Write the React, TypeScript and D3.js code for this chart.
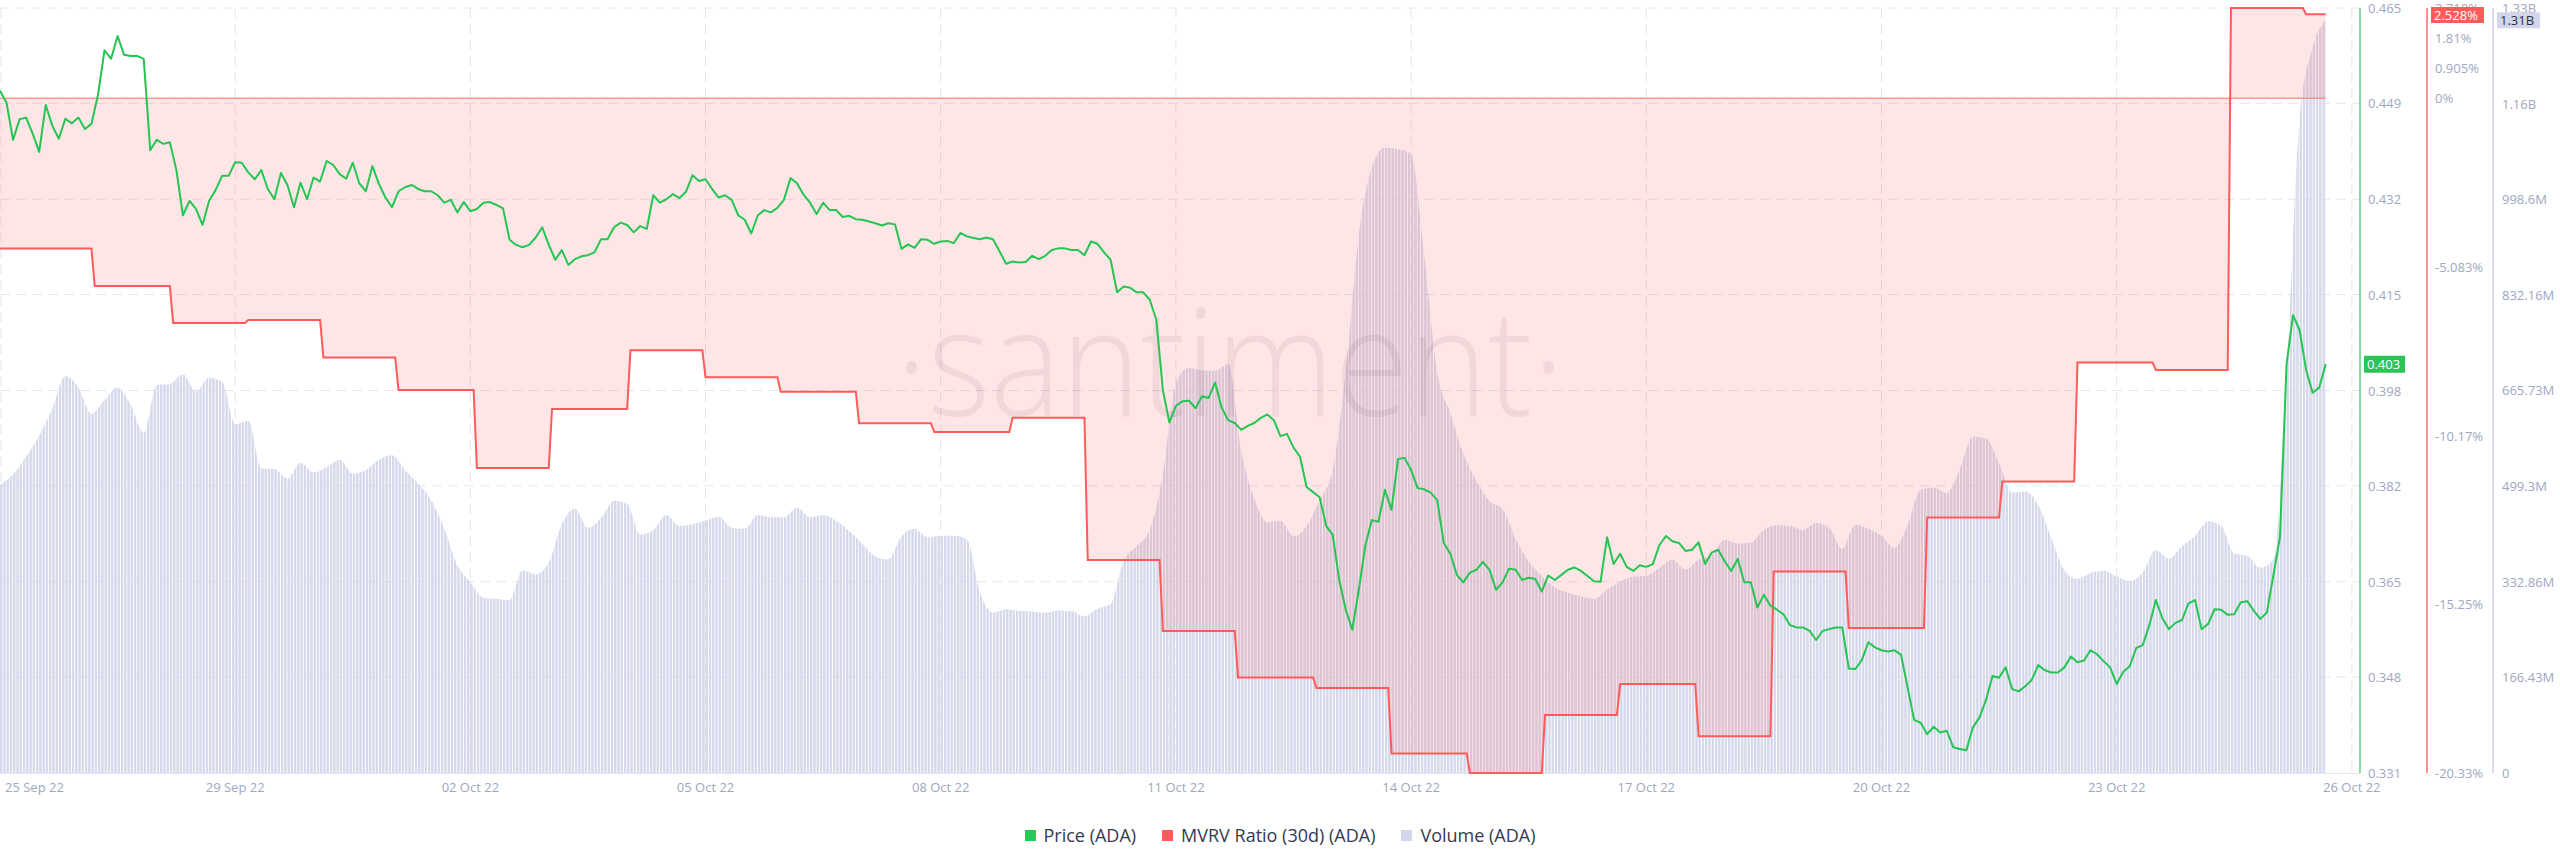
import React from 'react'
import * as d3 from 'd3'

// series start 26 Sep 2022 00:00 UTC; price every 2 hours, volume every 4 hours
const startTime = Date.UTC(2022, 8, 26, 0)
const endTime = Date.UTC(2022, 9, 26, 2, 30)
const priceStepHours = 2
const volumeStepHours = 4

const priceValues = [
  0.4509, 0.4488, 0.4423, 0.4459, 0.4462, 0.4434, 0.4402, 0.4484, 0.4448, 0.4425,
  0.446, 0.4452, 0.4462, 0.4442, 0.4451, 0.4502, 0.458, 0.4565, 0.4605, 0.4572,
  0.457, 0.457, 0.4565, 0.4405, 0.4423, 0.4416, 0.4419, 0.437, 0.4291, 0.4316,
  0.4302, 0.4274, 0.4316, 0.4335, 0.436, 0.436, 0.4384, 0.4383, 0.4366, 0.4354,
  0.437, 0.4337, 0.4319, 0.4365, 0.4344, 0.4305, 0.4348, 0.4319, 0.4357, 0.435,
  0.4386, 0.4379, 0.4363, 0.4355, 0.4383, 0.4347, 0.4333, 0.4377, 0.4346, 0.4322,
  0.4305, 0.4333, 0.434, 0.4344, 0.4337, 0.4333, 0.4333, 0.4326, 0.4313, 0.4318,
  0.4296, 0.4314, 0.4298, 0.4302, 0.4313, 0.4314, 0.4309, 0.4303, 0.4248, 0.4239,
  0.4235, 0.4239, 0.4252, 0.427, 0.4239, 0.4213, 0.423, 0.4204, 0.4214, 0.4219,
  0.4221, 0.4226, 0.4249, 0.4249, 0.427, 0.4278, 0.4274, 0.4261, 0.4272, 0.4267,
  0.4326, 0.4313, 0.4319, 0.4328, 0.4321, 0.4332, 0.4361, 0.4351, 0.4354, 0.4337,
  0.4322, 0.4326, 0.4318, 0.4291, 0.4283, 0.4259, 0.4291, 0.43, 0.4296, 0.4304,
  0.4318, 0.4356, 0.4347, 0.4327, 0.4313, 0.4293, 0.4313, 0.43, 0.43, 0.4288,
  0.429, 0.4284, 0.4283, 0.428, 0.4277, 0.4273, 0.4277, 0.4275, 0.4232, 0.424,
  0.4234, 0.4249, 0.4248, 0.4241, 0.4245, 0.4246, 0.4242, 0.426, 0.4254, 0.4251,
  0.4249, 0.4252, 0.4249, 0.4228, 0.4206, 0.421, 0.4208, 0.4209, 0.422, 0.4214,
  0.422, 0.423, 0.4233, 0.4233, 0.423, 0.423, 0.4221, 0.4245, 0.4241, 0.4226,
  0.4213, 0.4156, 0.4166, 0.4164, 0.4156, 0.4156, 0.4143, 0.4108, 0.3985, 0.3928,
  0.3957, 0.3965, 0.3966, 0.3953, 0.3974, 0.3971, 0.3998, 0.3954, 0.3932, 0.3927,
  0.3915, 0.3922, 0.3927, 0.3936, 0.3942, 0.3932, 0.3904, 0.3908, 0.3884, 0.3868,
  0.3815, 0.3806, 0.3797, 0.3747, 0.3731, 0.3652, 0.36, 0.3565, 0.3635, 0.3713,
  0.3757, 0.3754, 0.381, 0.3775, 0.3864, 0.3866, 0.3845, 0.3813, 0.3811, 0.3805,
  0.3792, 0.3717, 0.3698, 0.3661, 0.3648, 0.3665, 0.367, 0.3684, 0.367, 0.3635,
  0.3648, 0.3672, 0.367, 0.3652, 0.3656, 0.3654, 0.3632, 0.366, 0.3652, 0.3661,
  0.367, 0.3674, 0.3668, 0.3659, 0.365, 0.3649, 0.3727, 0.368, 0.3698, 0.3675,
  0.3668, 0.3678, 0.3675, 0.368, 0.3713, 0.3729, 0.372, 0.3717, 0.3703, 0.3705,
  0.3718, 0.368, 0.37, 0.3705, 0.3685, 0.3668, 0.3689, 0.3648, 0.3648, 0.3604,
  0.3626, 0.3607, 0.36, 0.3592, 0.3573, 0.3569, 0.3569, 0.3563, 0.3547, 0.3563,
  0.3566, 0.3569, 0.3569, 0.3497, 0.3496, 0.3512, 0.3543, 0.3534, 0.3529, 0.3527,
  0.3529, 0.3521, 0.3464, 0.3407, 0.3402, 0.3382, 0.3395, 0.3385, 0.3388, 0.3359,
  0.3356, 0.3354, 0.3394, 0.3411, 0.3442, 0.3484, 0.3481, 0.3499, 0.3461, 0.3457,
  0.3466, 0.3477, 0.3503, 0.3494, 0.349, 0.349, 0.3499, 0.3518, 0.3508, 0.3511,
  0.3529, 0.3522, 0.351, 0.3499, 0.347, 0.3491, 0.3501, 0.3533, 0.3538, 0.3573,
  0.3617, 0.3585, 0.3566, 0.3577, 0.3582, 0.3611, 0.3617, 0.3566, 0.3575, 0.3601,
  0.36, 0.3591, 0.3592, 0.3613, 0.3615, 0.3598, 0.3584, 0.3595, 0.3661, 0.3727,
  0.4029, 0.4116, 0.409, 0.402, 0.398, 0.3989, 0.403,
]

// volume in millions of ADA
const volumeValues = [
  501, 520, 551, 587, 634, 691, 671, 625, 649, 671, 641, 592, 675, 677, 694, 664,
  688, 681, 607, 613, 530, 529, 512, 540, 523, 532, 545, 521, 527, 545, 553,
  527, 504, 475, 425, 362, 332, 305, 303, 301, 353, 346, 366, 433, 460, 427, 444,
  474, 468, 415, 423, 449, 430, 433, 439, 446, 427, 425, 449, 445, 445,
  462, 445, 449, 439, 421, 399, 377, 372, 412, 425, 410, 413, 413, 407, 314, 279,
  285, 282, 281, 279, 283, 282, 273, 286, 294, 370, 394, 423, 519, 679,
  705, 701, 700, 712, 560, 477, 436, 439, 412, 430, 475, 527, 701, 936, 1054, 1088,
  1086, 1077, 902, 697, 627, 556, 508, 473, 459, 407, 368, 343, 323, 314,
  307, 303, 320, 333, 342, 343, 357, 371, 354, 371, 379, 406, 399, 401, 423, 431,
  430, 423, 435, 427, 390, 432, 425, 413, 392, 432, 493, 497, 487, 529,
  585, 582, 539, 488, 490, 466, 409, 353, 338, 348, 352, 342, 334, 349, 388, 373,
  395, 412, 438, 430, 382, 378, 357, 371, 693, 1137, 1263, 1310,
]

const mvrvDates = [
  '2022-09-26T00:00Z', '2022-09-27T05:00Z', '2022-09-28T05:00Z', '2022-09-29T04:00Z',
  '2022-09-30T03:00Z', '2022-10-01T02:00Z', '2022-10-02T02:00Z', '2022-10-03T01:00Z',
  '2022-10-04T01:00Z', '2022-10-05T00:00Z', '2022-10-05T23:00Z', '2022-10-06T23:00Z',
  '2022-10-07T22:00Z', '2022-10-08T22:00Z', '2022-10-09T21:00Z', '2022-10-10T20:00Z',
  '2022-10-11T19:00Z', '2022-10-12T19:00Z', '2022-10-13T18:00Z', '2022-10-14T18:00Z',
  '2022-10-15T17:00Z', '2022-10-16T16:00Z', '2022-10-17T16:00Z', '2022-10-18T15:00Z',
  '2022-10-19T14:00Z', '2022-10-20T14:00Z', '2022-10-21T13:00Z', '2022-10-22T12:00Z',
  '2022-10-23T12:00Z', '2022-10-24T11:00Z', '2022-10-25T10:00Z',
]
const mvrvValues = [
  -4.53, -5.66, -6.77, -6.68, -7.81, -8.79, -11.14, -9.36, -7.59, -8.41, -8.84,
  -9.79, -10.06, -9.63, -13.91, -16.05, -17.45, -17.77, -19.74, -20.33, -18.58,
  -17.65, -19.22, -14.26, -15.96, -12.63, -11.55, -7.96, -8.19, 2.718, 2.528,
]

const priceTicks = [0.3314, 0.3482, 0.3649, 0.3817, 0.3984, 0.4152, 0.4319, 0.4487, 0.4654]
const mvrvTicks = [-20.33, -15.25, -10.17, -5.083, 0, 0.905, 1.81, 2.718]
const mvrvTickLabels = ['-20.33%', '-15.25%', '-10.17%', '-5.083%', '0%', '0.905%', '1.81%', '2.718%']
const volumeTicks = [0, 166.43, 332.86, 499.3, 665.73, 832.16, 998.6, 1165, 1331.4]
const volumeTickLabels = ['0', '166.43M', '332.86M', '499.3M', '665.73M', '832.16M', '998.6M', '1.16B', '1.33B']
const dateTicks = [
  '2022-09-29', '2022-10-02', '2022-10-05', '2022-10-08', '2022-10-11',
  '2022-10-14', '2022-10-17', '2022-10-20', '2022-10-23', '2022-10-26',
]
const firstDateLabel = '25 Sep 22'

const legendItems = [
  { name: 'Price (ADA)', color: '#26c953' },
  { name: 'MVRV Ratio (30d) (ADA)', color: '#ff5b5b' },
  { name: 'Volume (ADA)', color: '#d3d6ea' },
]

const W = 2560
const H = 867
const left = 0
const right = 2360
const top = 8
const bottom = 773
const font = '"Open Sans", sans-serif'
const axisColor = '#9ea7c0'

export default function App() {
  const x = d3.scaleUtc().domain([new Date(startTime), new Date(endTime)]).range([left, right])
  const yPrice = d3.scaleLinear().domain([0.3314, 0.4654]).range([bottom, top])
  const yMvrv = d3.scaleLinear().domain([-20.33, 2.718]).range([bottom, top])
  const yVol = d3.scaleLinear().domain([0, 1331.4]).range([bottom, top])

  const priceTimes = priceValues.map((_, i) => new Date(startTime + i * priceStepHours * 3600e3))
  const volTimes = volumeValues.map((_, i) => new Date(startTime + i * volumeStepHours * 3600e3))
  const lastTime = priceTimes[priceTimes.length - 1]
  const hourPx = x(new Date(startTime + 3600e3)) - x(new Date(startTime))

  const priceLine = d3.line<number>()
    .x((_, i) => x(priceTimes[i]))
    .y((d) => yPrice(d))

  const volArea = d3.area<number>()
    .x((_, i) => x(volTimes[i]))
    .y0(bottom)
    .y1((d) => yVol(d))
    .curve(d3.curveMonotoneX)

  // step line: flat for each day, then a one hour ramp to the next value
  const mvrvTimes = mvrvDates.map((s) => new Date(s))
  const mvrvPts: [Date, number][] = []
  mvrvValues.forEach((v, k) => {
    if (k > 0) mvrvPts.push([new Date(+mvrvTimes[k] - 3600e3), mvrvValues[k - 1]])
    mvrvPts.push([mvrvTimes[k], v])
  })
  mvrvPts.push([lastTime, mvrvValues[mvrvValues.length - 1]])

  const mvrvLine = d3.line<[Date, number]>()
    .x((d) => x(d[0]))
    .y((d) => yMvrv(d[1]))
  const mvrvArea = d3.area<[Date, number]>()
    .x((d) => x(d[0]))
    .y0(yMvrv(0))
    .y1((d) => yMvrv(d[1]))

  const fmtPrice = d3.format('.3f')
  const fmtDate = d3.utcFormat('%d %b %y')

  const lastPrice = priceValues[priceValues.length - 1]
  const lastMvrv = mvrvValues[mvrvValues.length - 1]
  const lastVol = volumeValues[volumeValues.length - 1]
  const pY = yPrice(lastPrice)
  const mY = Math.max(yMvrv(lastMvrv), 15)
  const vY = Math.max(yVol(lastVol), 16)

  return (
    <div style={{ position: 'absolute', left: 0, top: 0, width: W, height: H, background: '#fff' }}>
      <svg width={W} height={H} style={{ display: 'block' }}>
        <defs>
          <pattern id="volStripes" patternUnits="userSpaceOnUse" width={hourPx} height={20}>
            <rect x={0} y={0} width={hourPx - 0.9} height={20} fill="#d5d8eb" />
          </pattern>
        </defs>

        {/* grid */}
        <g stroke="#e4e5f0" strokeWidth={1} strokeDasharray="10 6">
          {priceTicks.slice(1).map((t) => (
            <line key={t} x1={left} x2={right} y1={yPrice(t)} y2={yPrice(t)} />
          ))}
          <line x1={left + 1} x2={left + 1} y1={top} y2={bottom} />
          {dateTicks.map((d) => (
            <line key={d} x1={x(new Date(d))} x2={x(new Date(d))} y1={top} y2={bottom} />
          ))}
        </g>
        <line x1={left} x2={right} y1={bottom + 0.5} y2={bottom + 0.5} stroke="#e3e5f0" />

        {/* volume */}
        <path d={volArea(volumeValues) || ''} fill="url(#volStripes)" />

        {/* watermark */}
        <text x={1230} y={416} textAnchor="middle" fontFamily={font} fontWeight={300}
          fontSize={150} textLength={669} lengthAdjust="spacingAndGlyphs"
          fill="#4a3566" fillOpacity={0.09}>·santiment·</text>

        {/* mvrv */}
        <path d={mvrvArea(mvrvPts) || ''} fill="rgba(255,85,90,0.15)" />
        <line x1={x(priceTimes[0])} x2={x(lastTime)} y1={yMvrv(0)} y2={yMvrv(0)} stroke="#ff6f6f" strokeWidth={1} />
        <path d={mvrvLine(mvrvPts) || ''} fill="none" stroke="#ff5b5b" strokeWidth={2} />

        {/* price */}
        <path d={priceLine(priceValues) || ''} fill="none" stroke="#26c453" strokeWidth={2} strokeLinejoin="round" />

        {/* right axes */}
        <line x1={right} x2={right} y1={top} y2={bottom} stroke="#5fd07e" strokeWidth={1.5} />
        <line x1={2427} x2={2427} y1={top} y2={bottom} stroke="#ff6b6b" strokeWidth={1.5} />
        <line x1={2493} x2={2493} y1={top} y2={bottom} stroke="#cdd0e3" strokeWidth={1.5} />

        <g fontFamily={font} fontSize={13} fill={axisColor} dominantBaseline="central">
          {priceTicks.map((t) => (
            <text key={t} x={2368} y={yPrice(t)}>{fmtPrice(t)}</text>
          ))}
          {mvrvTicks.map((t, i) => (
            <text key={t} x={2435} y={yMvrv(t)}>{mvrvTickLabels[i]}</text>
          ))}
          {volumeTicks.map((t, i) => (
            <text key={t} x={2502} y={yVol(t)}>{volumeTickLabels[i]}</text>
          ))}
        </g>

        {/* last value badges */}
        <g fontFamily={font} fontSize={13} dominantBaseline="central">
          <rect x={2364} y={pY - 8.5} width={41} height={17} fill="#2bc455" />
          <text x={2367} y={pY} fill="#fff">{fmtPrice(lastPrice)}</text>
          <rect x={2431} y={mY - 8} width={53} height={16} fill="#ff5b5b" />
          <text x={2434} y={mY} fill="#fff">{lastMvrv.toFixed(3)}%</text>
          <rect x={2497} y={vY - 8} width={43} height={16} fill="#d3d6ea" />
          <text x={2500} y={vY} fill="#2b3045">{d3.format('.3~s')(lastVol * 1e6).replace('G', 'B')}</text>
        </g>

        {/* x axis labels */}
        <g fontFamily={font} fontSize={13} fill={axisColor} dominantBaseline="central">
          <text x={left + 5} y={787}>{firstDateLabel}</text>
          {dateTicks.map((d) => (
            <text key={d} x={x(new Date(d))} y={787} textAnchor="middle">{fmtDate(new Date(d))}</text>
          ))}
        </g>
      </svg>

      <div style={{
        position: 'absolute', left: 0, top: 823, width: W, display: 'flex',
        justifyContent: 'center', gap: 26, fontFamily: font, fontSize: 18, color: '#353b4f',
        lineHeight: '24px',
      }}>
        {legendItems.map((it) => (
          <div key={it.name} style={{ display: 'flex', alignItems: 'center' }}>
            <span style={{ width: 11, height: 11, background: it.color, marginRight: 8, display: 'inline-block' }} />
            <span>{it.name}</span>
          </div>
        ))}
      </div>
    </div>
  )
}
